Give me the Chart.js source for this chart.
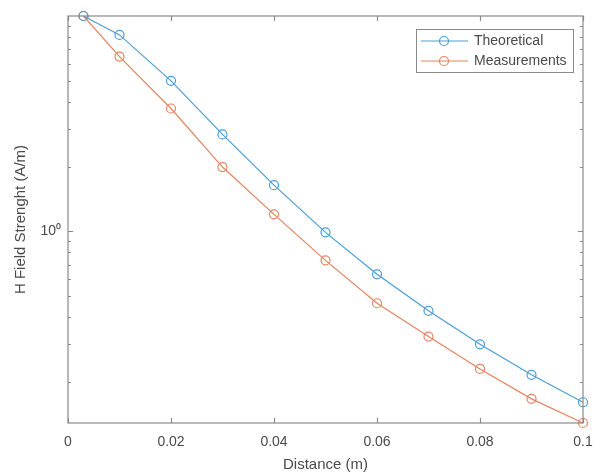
<!DOCTYPE html>
<html>
<head>
<meta charset="utf-8">
<script src="https://cdn.jsdelivr.net/npm/chart.js@4"></script>
<style>
  html, body { margin: 0; padding: 0; background: #ffffff; }
  #wrap { position: relative; width: 593px; height: 476px; }
</style>
</head>
<body>
<div id="wrap"><canvas id="c" width="593" height="476"></canvas></div>
<script>
// ---- data ----
const distance = [0.003, 0.01, 0.02, 0.03, 0.04, 0.05, 0.06, 0.07, 0.08, 0.09, 0.10];
const theoretical = [10, 8.17, 5.0, 2.82, 1.64, 0.99, 0.632, 0.428, 0.299, 0.216, 0.161];
const measurements = [10, 6.48, 3.72, 1.99, 1.20, 0.734, 0.464, 0.325, 0.230, 0.167, 0.129];
const seriesNames = ['Theoretical', 'Measurements'];
const xTicks = [0, 0.02, 0.04, 0.06, 0.08, 0.1];
const yMajorTicks = [1];
const yMinorTicks = [0.2, 0.3, 0.4, 0.5, 0.6, 0.7, 0.8, 0.9, 2, 3, 4, 5, 6, 7, 8, 9];

const BLUE = '#4a9ed8';
const ORANGE = '#e5845f';
const AXIS = '#8a8a8a';
const TEXT = '#4a4a4a';
const FONT = "'Liberation Sans', Arial, Helvetica, sans-serif";

function toPoints(xs, ys) { return xs.map((x, i) => ({ x: x, y: ys[i] })); }

// inward tick marks + full box, like MATLAB axes
const boxPlugin = {
  id: 'boxPlugin',
  afterDraw(chart) {
    const { ctx, chartArea: a, scales } = chart;
    const xs = scales.x, ys = scales.y;
    ctx.save();
    ctx.strokeStyle = AXIS;
    ctx.lineWidth = 1.2;
    ctx.strokeRect(a.left, a.top, a.right - a.left, a.bottom - a.top);
    ctx.beginPath();
    xTicks.forEach(v => {
      const px = Math.round(xs.getPixelForValue(v)) + 0.5;
      ctx.moveTo(px, a.bottom); ctx.lineTo(px, a.bottom - 5);
      ctx.moveTo(px, a.top); ctx.lineTo(px, a.top + 5);
    });
    yMajorTicks.forEach(v => {
      const py = Math.round(ys.getPixelForValue(v)) + 0.5;
      ctx.moveTo(a.left, py); ctx.lineTo(a.left + 5, py);
      ctx.moveTo(a.right, py); ctx.lineTo(a.right - 5, py);
    });
    yMinorTicks.forEach(v => {
      const py = Math.round(ys.getPixelForValue(v)) + 0.5;
      ctx.moveTo(a.left, py); ctx.lineTo(a.left + 3, py);
      ctx.moveTo(a.right, py); ctx.lineTo(a.right - 3, py);
    });
    ctx.stroke();
    ctx.restore();
  }
};

// MATLAB-style legend box inside the axes (top-right)
const legendPlugin = {
  id: 'boxLegend',
  afterDatasetsDraw(chart) {
    const { ctx, chartArea: a } = chart;
    const boxW = 157, boxH = 43;
    const bx = a.right - 10 - boxW, by = a.top + 13;
    ctx.save();
    ctx.fillStyle = '#ffffff';
    ctx.fillRect(bx, by, boxW, boxH);
    ctx.strokeStyle = '#8a8a8a';
    ctx.lineWidth = 1;
    ctx.strokeRect(bx + 0.5, by + 0.5, boxW, boxH);
    ctx.font = '14px ' + FONT;
    ctx.textBaseline = 'middle';
    chart.data.datasets.forEach((ds, i) => {
      const y = by + 12 + i * 20;
      ctx.strokeStyle = ds.borderColor;
      ctx.lineWidth = 1.2;
      ctx.beginPath();
      ctx.moveTo(bx + 5, y); ctx.lineTo(bx + 52, y);
      ctx.stroke();
      ctx.beginPath();
      ctx.arc(bx + 28, y, 4.5, 0, Math.PI * 2);
      ctx.stroke();
      ctx.fillStyle = TEXT;
      ctx.textAlign = 'left';
      ctx.fillText(ds.label, bx + 58, y);
    });
    ctx.restore();
  }
};

new Chart(document.getElementById('c'), {
  type: 'scatter',
  data: {
    datasets: [
      {
        label: seriesNames[0],
        data: toPoints(distance, theoretical),
        showLine: true,
        borderColor: BLUE,
        backgroundColor: 'rgba(0,0,0,0)',
        borderWidth: 1.2,
        pointRadius: 4.5,
        pointBorderWidth: 1.2,
        pointBorderColor: BLUE,
        pointBackgroundColor: 'rgba(0,0,0,0)',
        tension: 0,
        clip: false
      },
      {
        label: seriesNames[1],
        data: toPoints(distance, measurements),
        showLine: true,
        borderColor: ORANGE,
        backgroundColor: 'rgba(0,0,0,0)',
        borderWidth: 1.2,
        pointRadius: 4.5,
        pointBorderWidth: 1.2,
        pointBorderColor: ORANGE,
        pointBackgroundColor: 'rgba(0,0,0,0)',
        tension: 0,
        clip: false
      }
    ]
  },
  options: {
    responsive: false,
    animation: false,
    devicePixelRatio: 1,
    layout: { autoPadding: false, padding: { top: 16, right: 10, left: 0, bottom: 0 } },
    plugins: {
      legend: { display: false },
      tooltip: { enabled: false }
    },
    scales: {
      x: {
        type: 'linear',
        min: 0,
        max: 0.1,
        afterBuildTicks(scale) { scale.ticks = xTicks.map(v => ({ value: v })); },
        afterFit(scale) { scale.height = 53; scale.paddingLeft = 0; scale.paddingRight = 0; },
        grid: { display: false, drawTicks: false },
        border: { display: false },
        ticks: {
          color: TEXT,
          font: { family: FONT, size: 14 },
          padding: 11,
          maxRotation: 0,
          callback(v) { return String(Math.round(v * 100) / 100); }
        },
        title: {
          display: true,
          text: 'Distance (m)',
          color: TEXT,
          font: { family: FONT, size: 15 },
          padding: { top: 0, bottom: 2 }
        }
      },
      y: {
        type: 'logarithmic',
        min: 0.129,
        max: 10,
        afterBuildTicks(scale) { scale.ticks = yMajorTicks.map(v => ({ value: v })); },
        afterFit(scale) { scale.width = 68; scale.paddingTop = 0; scale.paddingBottom = 0; },
        grid: { display: false, drawTicks: false },
        border: { display: false },
        ticks: {
          color: TEXT,
          font: { family: FONT, size: 14 },
          padding: 7,
          autoSkip: false,
          callback(v) { return v === 1 ? '10\u2070' : ''; }
        },
        title: {
          display: true,
          text: 'H Field Strenght (A/m)',
          color: TEXT,
          font: { family: FONT, size: 15 },
          padding: { top: 12, bottom: 0 }
        }
      }
    }
  },
  plugins: [boxPlugin, legendPlugin]
});
</script>
</body>
</html>
